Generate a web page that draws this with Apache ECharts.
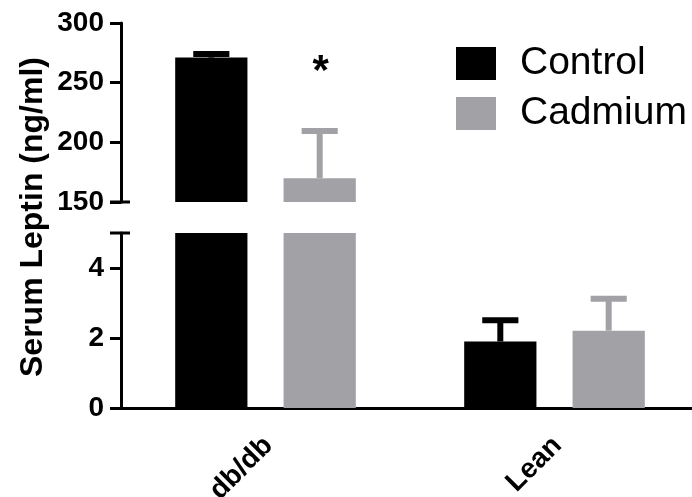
<!DOCTYPE html>
<html>
<head>
<meta charset="utf-8">
<script src="https://cdn.jsdelivr.net/npm/echarts@6/dist/echarts.min.js"></script>
<style>
  html, body { margin: 0; padding: 0; background: #fff; }
  #chart { width: 692px; height: 497px; }
</style>
</head>
<body>
<div id="chart"></div>
<script>
// values
const categories = ['db/db', 'Lean'];
const controlMean = [271, 1.9];
const controlUpper = [274, 2.51];   // mean + SEM
const cadmiumMean = [170, 2.21];
const cadmiumUpper = [209.5, 3.12];
const significance = ['*', ''];
const upperTicks = [150, 200, 250, 300];
const lowerTicks = [0, 2, 4];
const lowerBreak = 5;

const FONT = 'Liberation Sans, Arial, sans-serif';
const BLACK = '#000000';
const GREY = '#a2a1a6';

// grid geometry
const LEFT = 121, WIDTH = 578;
const TOP1 = 23, H1 = 179;
const TOP2 = 233, H2 = 175;

const chart = echarts.init(document.getElementById('chart'));

// error bar drawn above each bar, offset like the bars (+-54 px in a 289 px band)
function errorBars(color, side) {
  return function (params, api) {
    const cs = params.coordSys;
    const band = api.size([1, 0])[0];
    const i = api.value(0);
    const x = api.coord([i, 0])[0] + side * band * 0.1875;
    const yMean = api.coord([i, api.value(1)])[1];
    const yHi = api.coord([i, api.value(2)])[1];
    if (yMean < cs.y - 1 || yMean > cs.y + cs.height + 1) return null;
    const cap = band * 0.0625;
    const children = [
      { type: 'line', shape: { x1: x, y1: yMean, x2: x, y2: yHi }, style: { stroke: color, lineWidth: 6 } },
      { type: 'line', shape: { x1: x - cap, y1: yHi, x2: x + cap, y2: yHi }, style: { stroke: color, lineWidth: 6 } }
    ];
    const mark = significance[params.dataIndex];
    if (side > 0 && mark) {
      children.push({
        type: 'text',
        style: { x: x + 1, y: cs.y + 49, text: mark, fill: BLACK, font: 'bold 42px ' + FONT, align: 'center', verticalAlign: 'middle' }
      });
    }
    return { type: 'group', children: children };
  };
}

const axisLine = { lineStyle: { color: BLACK, width: 3 } };
const axisTick = { length: 11, lineStyle: { color: BLACK, width: 3 } };
const tickLabel = { color: BLACK, fontSize: 28, fontWeight: 'bold', fontFamily: FONT, margin: 17 };

function barSeries(name, data, color, idx) {
  return {
    name: name, type: 'bar', xAxisIndex: idx, yAxisIndex: idx,
    data: data, barWidth: '25%', barGap: '50%',
    itemStyle: { color: color }, clip: true, silent: true
  };
}

function errSeries(name, mean, upper, color, side, idx) {
  return {
    name: name, type: 'custom', xAxisIndex: idx, yAxisIndex: idx, z: 3, silent: true,
    renderItem: errorBars(color, side),
    data: categories.map((c, i) => [i, mean[i], upper[i]])
  };
}

const option = {
  animation: false,
  backgroundColor: '#fff',
  textStyle: { fontFamily: FONT },
  legend: {
    data: ['Control', 'Cadmium'],
    orient: 'vertical', left: 456, top: 44, padding: 0,
    itemWidth: 40, itemHeight: 33, itemGap: 11, icon: 'rect',
    textStyle: { color: BLACK, fontSize: 39, fontFamily: FONT, padding: [0, 0, 0, 19] },
    selectedMode: false
  },
  grid: [
    { left: LEFT, top: TOP1, width: WIDTH, height: H1, outerBoundsMode: 'none', containLabel: false },
    { left: LEFT, top: TOP2, width: WIDTH, height: H2, outerBoundsMode: 'none', containLabel: false }
  ],
  xAxis: [
    { type: 'category', gridIndex: 0, data: categories, show: false },
    {
      type: 'category', gridIndex: 1, data: categories,
      axisLine: axisLine,
      axisTick: { alignWithLabel: true, length: 12, lineStyle: { color: BLACK, width: 3 } },
      axisLabel: { color: BLACK, fontSize: 28, fontWeight: 'bold', fontFamily: FONT, rotate: 45, margin: 36, padding: [36, -4, 0, 0] }
    }
  ],
  yAxis: [
    {
      type: 'value', gridIndex: 0,
      min: upperTicks[0], max: upperTicks[upperTicks.length - 1], interval: upperTicks[1] - upperTicks[0],
      axisLine: Object.assign({ show: true }, axisLine), axisTick: Object.assign({ show: true }, axisTick),
      axisLabel: tickLabel, splitLine: { show: false }
    },
    {
      type: 'value', gridIndex: 1,
      min: lowerTicks[0], max: lowerBreak, interval: lowerTicks[1] - lowerTicks[0],
      axisLine: Object.assign({ show: true }, axisLine), axisTick: Object.assign({ show: true }, axisTick),
      axisLabel: Object.assign({ showMaxLabel: false }, tickLabel), splitLine: { show: false }
    }
  ],
  graphic: [
    {
      type: 'text', x: 33, y: 217, rotation: Math.PI / 2,
      style: { text: 'Serum Leptin (ng/ml)', fill: BLACK, font: 'bold 32px ' + FONT, align: 'center', verticalAlign: 'middle' }
    },
    // axis-break ticks crossing the y axis
    { type: 'line', shape: { x1: LEFT - 11, y1: TOP1 + H1, x2: LEFT + 9, y2: TOP1 + H1 }, style: { stroke: BLACK, lineWidth: 3 } },
    { type: 'line', shape: { x1: LEFT - 11, y1: TOP2, x2: LEFT + 9, y2: TOP2 }, style: { stroke: BLACK, lineWidth: 3 } }
  ],
  series: [
    barSeries('Control', controlMean, BLACK, 0),
    barSeries('Cadmium', cadmiumMean, GREY, 0),
    barSeries('Control', controlMean, BLACK, 1),
    barSeries('Cadmium', cadmiumMean, GREY, 1),
    errSeries('Control', controlMean, controlUpper, BLACK, -1, 0),
    errSeries('Cadmium', cadmiumMean, cadmiumUpper, GREY, 1, 0),
    errSeries('Control', controlMean, controlUpper, BLACK, -1, 1),
    errSeries('Cadmium', cadmiumMean, cadmiumUpper, GREY, 1, 1)
  ]
};

chart.setOption(option);
</script>
</body>
</html>
